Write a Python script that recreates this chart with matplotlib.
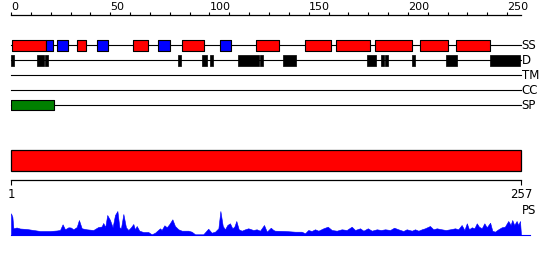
"""
Sequence feature map: secondary structure, disorder, TM, CC, signal peptide
and a per-residue profile underneath.
"""
import matplotlib
matplotlib.use('Agg')
import matplotlib.pyplot as plt
from matplotlib.patches import Rectangle

W, H = 550, 260
seq_len = 257

# secondary structure (residue ranges)
helix_start = [0.4, 33.4, 61.6, 86.3, 123.5, 148.3, 163.6, 183.6, 206.3, 224.3]
helix_end = [17.5, 37.7, 69.2, 97.4, 135.2, 161.4, 180.7, 202.3, 220.4, 241.6]
strand_start = [17.5, 23.3, 43.5, 74.2, 105.5]
strand_end = [21.3, 28.6, 48.7, 80.3, 110.7]

# disordered segments
dis_start = [0.0, 13.0, 17.1, 84.2, 96.3, 100.3, 114.4, 125.3, 137.0,
             179.6, 186.3, 188.7, 202.3, 219.3, 241.4]
dis_end = [1.5, 16.6, 18.6, 85.7, 98.6, 101.8, 124.8, 126.9, 143.5,
           183.8, 187.8, 190.2, 203.8, 224.6, 256.6]

# signal peptide
sp_start, sp_end = [0.0], [21.5]

track_names = ['SS', 'D', 'TM', 'CC', 'SP']

# per-residue profile (residue, score)
prof_pos = [1, 1.7, 2.2, 3.8, 5.5, 8.9, 12.2, 15.6, 20.6, 23.9, 25.6, 26.9, 28.1,
            29.8, 31.0, 32.3, 34.0, 35.1, 36.5, 39.0, 42.3, 44.8, 46.5, 47.3, 48.3,
            49.3, 50.7, 52.0, 53.2, 54.4, 55.4, 56.2, 57.4, 58.7, 59.9, 61.2, 62.4,
            63.2, 64.1, 65.4, 67.4, 69.9, 71.6, 73.3, 75.8, 76.6, 78.0, 79.2, 80.5,
            82.0, 83.3, 85.0, 86.7, 90.0, 91.7, 93.4, 97.5, 100.0, 101.7, 103.4,
            105.1, 106.1, 107.3, 108.4, 109.6, 110.9, 112.1, 113.1, 114.1, 115.3,
            116.8, 118.5, 120.1, 122.6, 124.3, 126.0, 128.0, 129.4, 131.4, 132.7,
            133.5, 138.5, 143.6, 146.9, 148.6, 150.2, 151.9, 153.6, 155.3, 157.8,
            160.0, 162.0, 164.5, 167.0, 169.5, 172.0, 173.7, 176.2, 177.9, 180.1,
            182.1, 184.6, 186.7, 188.8, 191.3, 193.3, 195.4, 197.9, 199.6, 202.2,
            203.8, 205.5, 207.2, 208.8, 211.3, 213.0, 214.7, 217.2, 219.2, 221.4,
            223.9, 225.5, 227.2, 228.6, 229.8, 230.9, 232.3, 233.6, 234.8, 235.9,
            237.3, 238.6, 239.8, 241.5, 242.6, 243.9, 245.6, 247.3, 248.9, 250.6,
            251.8, 252.6, 253.6, 254.8, 255.6, 256.5, 257.0]
prof_val = [21.7, 18.0, 6.7, 7.5, 6.5, 6.0, 5.0, 4.0, 4.0, 4.5, 5.0, 10.7, 5.7,
            7.7, 7.5, 5.7, 8.0, 15.0, 6.7, 5.7, 5.0, 8.0, 8.5, 12.0, 8.0,
            20.0, 15.0, 7.7, 20.0, 24.0, 7.7, 6.7, 21.0, 7.7, 5.0, 7.7, 11.0,
            5.7, 9.0, 4.3, 3.0, 3.0, 0.7, 2.3, 6.7, 5.0, 9.7, 7.7, 11.0,
            15.7, 9.0, 5.7, 4.3, 4.3, 3.3, 0.7, 0.7, 6.3, 2.3, 3.3,
            6.7, 24.0, 9.0, 5.7, 10.0, 11.7, 6.7, 8.3, 14.0, 5.7,
            4.3, 5.7, 6.7, 5.0, 5.7, 4.3, 10.0, 3.3, 7.3, 5.0,
            4.3, 4.0, 3.3, 3.3, 1.7, 5.0, 4.0, 5.7, 4.3, 6.7,
            8.3, 5.0, 4.3, 5.7, 5.0, 8.3, 5.0, 6.7, 4.3, 6.7,
            4.3, 5.7, 5.0, 5.7, 5.0, 7.3, 5.7, 4.0, 5.7, 4.3,
            5.7, 4.3, 5.7, 6.7, 9.0, 5.7, 6.7, 5.7, 5.0, 5.7,
            6.7, 5.7, 10.0, 5.0, 11.7, 5.7, 7.7, 6.7, 11.7, 8.3,
            6.7, 11.7, 7.7, 12.3, 4.3, 3.3, 5.7, 7.7, 8.3, 14.0,
            10.0, 15.0, 10.0, 14.0, 10.0, 14.0, 0.0]

fig = plt.figure(figsize=(W / 100, H / 100), dpi=100)
fig.patch.set_facecolor('white')


def px_axes(x0, y0, x1, y1):
    """Axes placed by pixel box (origin top-left)."""
    ax = fig.add_axes([x0 / W, 1 - y1 / H, (x1 - x0) / W, (y1 - y0) / H])
    ax.patch.set_alpha(0)
    return ax


# ---------- tracks with top ruler ----------
ax = px_axes(11, 15, 521, 115)
ax.set_xlim(0, seq_len)
ax.set_ylim(115, 15)
for s in ['left', 'right', 'bottom']:
    ax.spines[s].set_visible(False)
ax.spines['top'].set_linewidth(0.9)
ax.xaxis.tick_top()
ax.set_xticks(range(0, 251, 50))
ax.set_xticks(range(0, 251, 10), minor=True)
ax.tick_params(axis='x', which='both', direction='out', length=1.9, width=0.8,
               pad=0.5, labelsize=8, colors='black')
for lbl in ax.get_xticklabels():
    lbl.set_ha('left')
ax.set_yticks([])

row_y = [45.3, 60.3, 75.3, 90.0, 105.3]
for yy, name in zip(row_y, track_names):
    ax.plot([0, seq_len], [yy, yy], color='black', lw=0.8, zorder=1,
            clip_on=False)
    ax.text(seq_len + 0.3, yy, name, ha='left', va='center', fontsize=8.5)

ax.broken_barh([(a, b - a) for a, b in zip(helix_start, helix_end)], (40, 11),
               facecolors='#ff0000', edgecolors='black', linewidth=0.8, zorder=2)
ax.broken_barh([(a, b - a) for a, b in zip(strand_start, strand_end)], (40, 11),
               facecolors='#0000ff', edgecolors='black', linewidth=0.8, zorder=2)
ax.broken_barh([(a, b - a) for a, b in zip(dis_start, dis_end)], (55, 10.7),
               facecolors='black', edgecolors='black', linewidth=0.5, zorder=2)
ax.broken_barh([(a, b - a) for a, b in zip(sp_start, sp_end)], (100, 10.3),
               facecolors='#008000', edgecolors='black', linewidth=0.8, zorder=2)

# ---------- full-length bar with bottom ruler ----------
ax2 = px_axes(11, 140, 521, 180.3)
ax2.set_xlim(1, seq_len)
ax2.set_ylim(180.3, 140)
for s in ['left', 'right', 'top']:
    ax2.spines[s].set_visible(False)
ax2.spines['bottom'].set_linewidth(0.9)
ax2.set_xticks([1, seq_len])
ax2.tick_params(axis='x', direction='out', length=3.6, width=0.8, pad=2,
                labelsize=8.5)
ax2.set_yticks([])
ax2.add_patch(Rectangle((1, 150), seq_len - 1, 20.7, facecolor='#ff0000',
                        edgecolor='black', linewidth=0.9, clip_on=False))

# ---------- profile ----------
ax3 = px_axes(11, 211, 521, 235)
ax3.set_xlim(1, seq_len)
ax3.set_ylim(0, 24)
ax3.axis('off')
ax3.fill_between(prof_pos, 0, prof_val, color='#0000ff', lw=0.4, clip_on=False)
ax3.plot([1, seq_len + 4.5], [0, 0], color='#0000ff', lw=0.8, clip_on=False)
ax3.text(seq_len + 0.5, 24, 'PS', ha='left', va='center', fontsize=8.5)

fig.savefig('out.png', dpi=100, facecolor='white')
